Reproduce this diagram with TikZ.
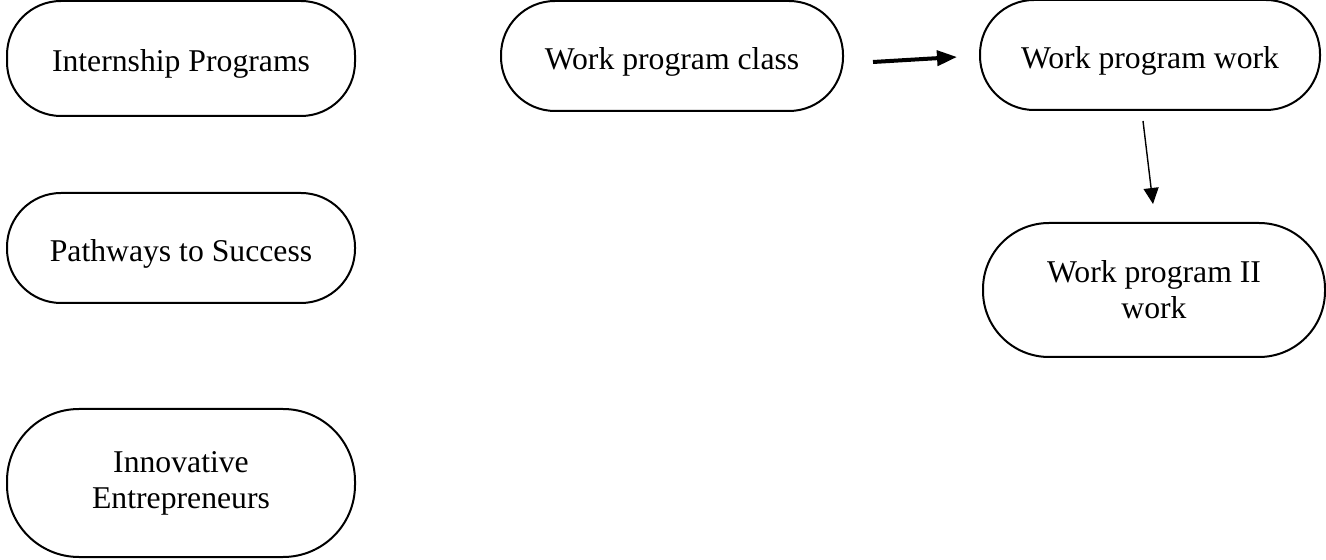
\documentclass[tikz,border=0pt]{standalone}
\usepackage{fontspec}
\setmainfont{Liberation Serif}
\usetikzlibrary{arrows.meta,calc}
\begin{document}
\begin{tikzpicture}[x=0.5pt,y=-0.5pt,
  pill/.style={draw, line width=1pt, rectangle, rounded corners=27pt, align=center,
    inner sep=0pt, font=\fontsize{15.85pt}{18pt}\selectfont},
  oneline/.style={text height=17pt, text depth=3.5pt},
  thickarrow/.style={line width=2pt, -{Triangle[length=10pt,width=7.5pt]}},
  thinarrow/.style={line width=0.7pt, -{Triangle[length=8pt,width=7.5pt]}}]
\useasboundingbox (0,0) rectangle (1326,560);
\node[pill, oneline, minimum width=174pt, minimum height=57.5pt] (ip) at (181,58.5) {Internship Programs};
\node[pill, oneline, minimum width=174pt, minimum height=55pt] (ps) at (181,248) {Pathways to Success};
\node[pill, minimum width=174pt, minimum height=74pt, rounded corners=36pt] (ie) at (181,483) {Innovative\\Entrepreneurs};
\node[pill, oneline, minimum width=171pt, minimum height=55pt] (wc) at (672,56) {Work program class};
\node[pill, oneline, minimum width=170pt, minimum height=55pt] (ww) at (1150,55) {Work program work};
\node[pill, minimum width=171pt, minimum height=67pt, rounded corners=33pt] (w2) at (1154,290) {Work program II\\work};
\coordinate (a1s) at ($(wc.east)+(29,6)$);
\coordinate (a1e) at ($(ww.west)+(-22,2)$);
\draw[thickarrow] (a1s) -- (a1e);
\coordinate (a2s) at ($(ww.south)+(-7,10)$);
\coordinate (a2e) at ($(w2.north)+(-1,-18)$);
\draw[thinarrow] (a2s) -- (a2e);
\end{tikzpicture}
\end{document}
